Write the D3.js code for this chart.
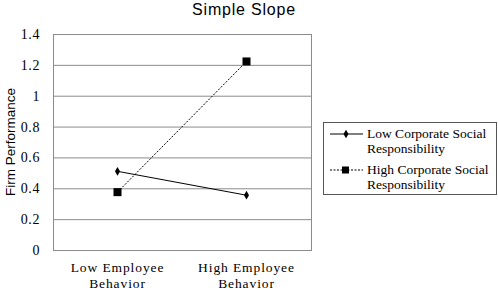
<!DOCTYPE html>
<html>
<head>
<meta charset="utf-8">
<script src="https://cdn.jsdelivr.net/npm/d3@7"></script>
<style>
  body { margin: 0; background: #fff; }
  svg { display: block; }
</style>
</head>
<body>
<svg id="chart"></svg>
<script>
var width = 498,
  height = 290;

// data
var categories = ["Low Employee Behavior", "High Employee Behavior"];
var categoryLines = [["Low Employee", "Behavior"], ["High Employee", "Behavior"]];
var lowCSR = [0.51, 0.355];
var highCSR = [0.375, 1.222];
var seriesNames = [["Low Corporate Social", "Responsibility"], ["High Corporate Social", "Responsibility"]];
var yTicks = [0, 0.2, 0.4, 0.6, 0.8, 1, 1.2, 1.4];

var plot = { left: 53, right: 311, top: 34, bottom: 250 };
var serif = "'Liberation Serif', 'Times New Roman', serif";
var sans = "Arial, 'Liberation Sans', sans-serif";

var svg = d3.select("#chart")
  .attr("width", width)
  .attr("height", height);

var x = d3.scaleBand()
  .domain(categories)
  .range([plot.left, plot.right]);

var y = d3.scaleLinear()
  .domain([0, 1.4])
  .range([plot.bottom, plot.top]);

// title
svg.append("text")
  .attr("x", 244)
  .attr("y", 15)
  .attr("text-anchor", "middle")
  .style("font-family", sans)
  .style("font-size", "16px")
  .style("letter-spacing", "0.8px")
  .text("Simple Slope");

// gridlines
svg.append("g")
  .selectAll("line")
  .data(yTicks)
  .enter().append("line")
  .attr("x1", plot.left)
  .attr("x2", plot.right)
  .attr("y1", d => y(d) + 0.5)
  .attr("y2", d => y(d) + 0.5)
  .style("stroke", "#8c8c8c")
  .style("stroke-width", 1);

// plot border
svg.append("rect")
  .attr("x", plot.left + 0.5)
  .attr("y", plot.top + 0.5)
  .attr("width", plot.right - plot.left)
  .attr("height", plot.bottom - plot.top)
  .style("fill", "none")
  .style("stroke", "#8c8c8c");

// y axis labels
var yAxis = d3.axisLeft(y)
  .tickValues(yTicks)
  .tickSize(0)
  .tickPadding(13)
  .tickFormat(d => d3.format("")(d));

var gy = svg.append("g")
  .attr("transform", "translate(" + plot.left + ",0)")
  .call(yAxis);
gy.select(".domain").remove();
gy.selectAll("text")
  .style("font-family", serif)
  .style("font-size", "14px")
  .style("letter-spacing", "0.6px")
  .style("fill", "#000");

// y axis title
svg.append("text")
  .attr("transform", "translate(15,142) rotate(-90)")
  .attr("text-anchor", "middle")
  .style("font-family", sans)
  .style("font-size", "13.5px")
  .text("Firm Performance");

// x labels
var xl = svg.append("g")
  .selectAll("text")
  .data(categories)
  .enter().append("text")
  .attr("x", d => x(d) + x.bandwidth() / 2)
  .attr("y", 272)
  .attr("text-anchor", "middle")
  .style("font-family", serif)
  .style("font-size", "13.5px")
  .style("letter-spacing", "0.9px");
xl.selectAll("tspan")
  .data((d, i) => categoryLines[i])
  .enter().append("tspan")
  .attr("x", function () { return this.parentNode.getAttribute("x"); })
  .attr("dy", (d, i) => i == 0 ? 0 : 16)
  .text(d => d);

var line = d3.line()
  .x((d, i) => x(categories[i]) + x.bandwidth() / 2)
  .y(d => y(d));

// low CSR line (solid, diamonds)
svg.append("path")
  .attr("d", line(lowCSR))
  .style("fill", "none")
  .style("stroke", "#000")
  .style("stroke-width", 1);

// high CSR line (dotted, squares)
svg.append("path")
  .attr("d", line(highCSR))
  .style("fill", "none")
  .style("stroke", "#000")
  .style("stroke-width", 1)
  .style("stroke-dasharray", "2,1.5");

var diamond = d3.symbol().type(d3.symbolDiamond).size(22);

svg.append("g")
  .selectAll("path")
  .data(lowCSR)
  .enter().append("path")
  .attr("d", diamond)
  .attr("transform", (d, i) => "translate(" + (x(categories[i]) + x.bandwidth() / 2) + "," + y(d) + ")")
  .style("fill", "#000");

svg.append("g")
  .selectAll("rect")
  .data(highCSR)
  .enter().append("rect")
  .attr("x", (d, i) => x(categories[i]) + x.bandwidth() / 2 - 4)
  .attr("y", d => y(d) - 4)
  .attr("width", 8)
  .attr("height", 8)
  .style("fill", "#000");

// legend
var legend = svg.append("g");
legend.append("rect")
  .attr("x", 323.5)
  .attr("y", 122.5)
  .attr("width", 173)
  .attr("height", 72)
  .style("fill", "#fff")
  .style("stroke", "#555");

var rowsY = [134, 170];
rowsY.forEach((ry, i) => {
  legend.append("line")
    .attr("x1", 330)
    .attr("x2", 363)
    .attr("y1", ry)
    .attr("y2", ry)
    .style("stroke", "#000")
    .style("stroke-dasharray", i == 0 ? null : "2,1.5");
  if (i == 0) {
    legend.append("path")
      .attr("d", diamond)
      .attr("transform", "translate(346," + ry + ")");
  } else {
    legend.append("rect")
      .attr("x", 342).attr("y", ry - 3.5)
      .attr("width", 7).attr("height", 7);
  }
  var t = legend.append("text")
    .attr("x", 367)
    .attr("y", ry + 4)
    .style("font-family", serif)
    .style("font-size", "13.5px");
  t.selectAll("tspan")
    .data(seriesNames[i])
    .enter().append("tspan")
    .attr("x", 367)
    .attr("dy", (d, j) => j == 0 ? 0 : 14.5)
    .text(d => d);
});
</script>
</body>
</html>
